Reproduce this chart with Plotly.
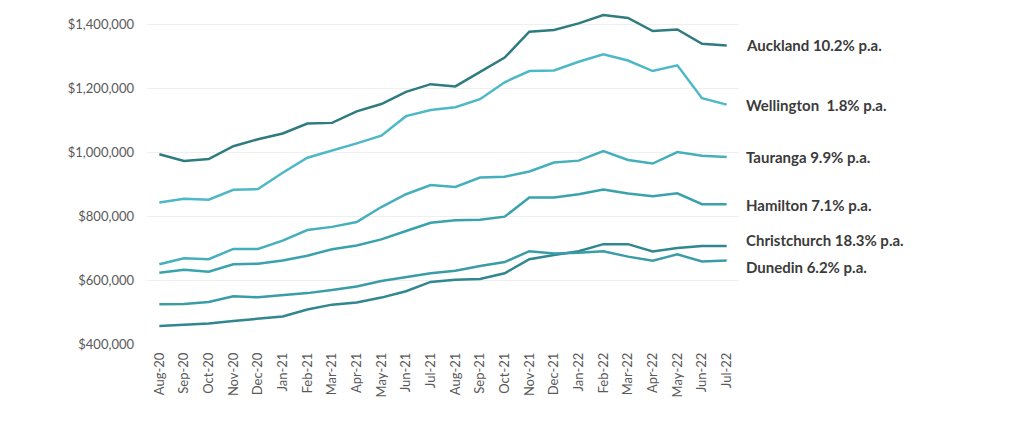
import plotly.graph_objects as go

months = [
    "Aug-20", "Sep-20", "Oct-20", "Nov-20", "Dec-20", "Jan-21", "Feb-21", "Mar-21",
    "Apr-21", "May-21", "Jun-21", "Jul-21", "Aug-21", "Sep-21", "Oct-21", "Nov-21",
    "Dec-21", "Jan-22", "Feb-22", "Mar-22", "Apr-22", "May-22", "Jun-22", "Jul-22",
]

auckland = [993000, 972000, 978000, 1018000, 1040000, 1058000, 1089000, 1091000,
            1127000, 1150000, 1188000, 1212000, 1205000, 1251000, 1295000, 1376000,
            1381000, 1402000, 1428000, 1419000, 1378000, 1383000, 1338000, 1333000]
wellington = [842000, 854000, 851000, 882000, 884000, 935000, 982000, 1004000,
              1027000, 1051000, 1112000, 1131000, 1140000, 1165000, 1218000, 1253000,
              1255000, 1282000, 1305000, 1286000, 1253000, 1271000, 1168000, 1148000]
tauranga = [649000, 668000, 665000, 697000, 697000, 723000, 756000, 766000,
            781000, 828000, 868000, 897000, 891000, 920000, 923000, 939000,
            967000, 973000, 1003000, 975000, 964000, 1000000, 988000, 984000]
hamilton = [623000, 632000, 626000, 649000, 651000, 661000, 676000, 696000,
            708000, 727000, 753000, 779000, 787000, 788000, 798000, 858000,
            858000, 868000, 883000, 870000, 862000, 871000, 837000, 837000]
christchurch = [456000, 460000, 464000, 472000, 478000, 486000, 508000, 523000,
                530000, 545000, 565000, 594000, 601000, 603000, 621000, 665000,
                678000, 690000, 712000, 712000, 689000, 700000, 706000, 706000]
dunedin = [524000, 525000, 531000, 549000, 546000, 553000, 559000, 569000,
           580000, 597000, 610000, 621000, 629000, 644000, 656000, 690000,
           683000, 685000, 690000, 673000, 660000, 680000, 658000, 661000]

series = [
    ("Auckland 10.2% p.a.", auckland, "#2e7b80"),
    ("Wellington  1.8% p.a.", wellington, "#4db8c6"),
    ("Tauranga 9.9% p.a.", tauranga, "#46afbc"),
    ("Hamilton 7.1% p.a.", hamilton, "#3aa2ac"),
    ("Christchurch 18.3% p.a.", christchurch, "#30878f"),
    ("Dunedin 6.2% p.a.", dunedin, "#3a9ca6"),
]
# label heights (nudged to match the original, in data units)
label_y = [1333000, 1148000, 984000, 834000, 725000, 640000]

fig = go.Figure()
for (name, vals, colour) in series:
    fig.add_trace(go.Scatter(
        x=months, y=vals, mode="lines", name=name,
        line=dict(color=colour, width=2.5),
        hoverinfo="x+y",
    ))

for (name, vals, colour), ly in zip(series, label_y):
    fig.add_annotation(
        x=1.008, xref="paper", y=ly, yref="y",
        text=f"<b>{name}</b>", showarrow=False,
        xanchor="left", yanchor="middle",
        font=dict(family="Lato, Open Sans, sans-serif", size=15, color="#3b3b3b"),
    )

# the page puts the figure 8px in from the top-left, so margins allow for it
fig.update_layout(
    width=1024, height=423,
    margin=dict(l=139, r=293, t=0, b=87),
    paper_bgcolor="white", plot_bgcolor="white",
    showlegend=False,
    font=dict(family="Lato, Open Sans, sans-serif", color="#595959"),
)
fig.update_xaxes(
    type="category", range=[-0.5, 23.5],
    tickangle=-90, tickfont=dict(size=13, color="#595959"),
    showgrid=False, showline=False, ticks="", ticklabelstandoff=5,
)
fig.update_yaxes(
    range=[400000, 1450000],
    tickvals=[400000, 600000, 800000, 1000000, 1200000, 1400000],
    tickformat="$,.0f", tickfont=dict(size=13, color="#595959"),
    showgrid=True, gridcolor="#efefef", gridwidth=1,
    zeroline=False, showline=False, ticks="", ticklen=0,
    ticklabelstandoff=12,
)

fig.write_html("out.html")
